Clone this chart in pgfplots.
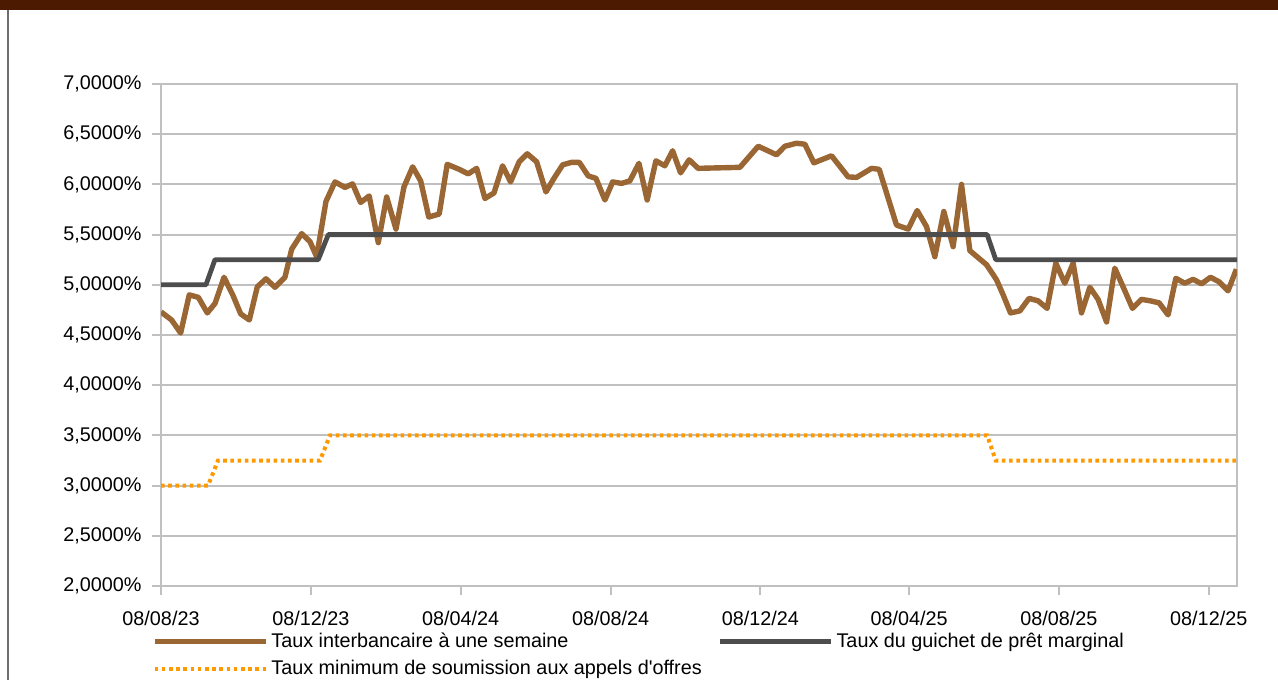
\documentclass[border=0pt]{standalone}
\usepackage{fontspec}
\setmainfont{Liberation Sans}[Ligatures=TeXOff]
\usepackage{pgfplots}
\pgfplotsset{compat=1.18}

\definecolor{barbrown}{RGB}{76,26,0}
\definecolor{framegray}{RGB}{110,110,110}
\definecolor{weekly}{RGB}{154,102,51}
\definecolor{marginal}{RGB}{77,77,77}
\definecolor{minbid}{RGB}{255,153,0}
\definecolor{gridgray}{RGB}{192,192,192}

% x = days since 08/08/23
\pgfplotstableread{
day rate
0 4.73
8.6 4.65
16 4.52
23 4.90
30.4 4.875
37.7 4.72
44 4.815
51.3 5.075
58.4 4.90
64.9 4.71
71.9 4.65
78.4 4.98
85.5 5.06
92.8 4.975
100.9 5.075
106.4 5.355
114.5 5.51
121.3 5.43
126.7 5.28
134.3 5.83
141.6 6.025
149.8 5.97
156 6.005
162.5 5.82
169.5 5.885
176.9 5.42
183.7 5.875
191.3 5.555
197.8 5.975
204.9 6.175
211.4 6.035
218 5.675
226.5 5.705
233 6.20
242.8 6.15
250.1 6.105
257 6.16
263.7 5.86
271.1 5.915
278.1 6.185
284.6 6.025
291.6 6.225
298.2 6.305
305.8 6.225
313.4 5.925
319.9 6.06
327 6.195
334.3 6.22
340.5 6.22
347.8 6.085
354.1 6.06
361.4 5.845
367.7 6.025
375 6.01
381.7 6.035
389.1 6.21
395.8 5.845
402.9 6.235
410.2 6.185
416.5 6.335
423 6.115
430 6.245
437.3 6.16
471.3 6.17
486.2 6.38
501.1 6.295
507.9 6.38
517.4 6.41
524.2 6.40
531.5 6.215
545.9 6.285
559.4 6.075
566.3 6.07
578.5 6.16
584.7 6.15
598.8 5.595
608.3 5.555
615.6 5.74
623.2 5.58
630 5.28
637.3 5.73
644.9 5.38
651.7 6.00
658.5 5.34
672.1 5.20
680.2 5.05
685.6 4.90
691.6 4.72
699.2 4.74
706.7 4.865
714.1 4.84
721.4 4.765
728.5 5.215
735.8 5.015
742.6 5.215
749.4 4.72
756.2 4.975
762.9 4.855
769.8 4.63
776.5 5.165
783.8 4.965
790.9 4.765
798.2 4.855
805.6 4.84
812.6 4.82
819.9 4.70
826.2 5.065
833.5 5.015
840.2 5.055
847.1 5.01
854.4 5.075
861.4 5.03
868.7 4.94
875.5 5.155
}\weeklydata

\pgfplotstableread{
day rate
0 5.0
36.6 5.0
43.9 5.25
128 5.25
136.2 5.5
672.6 5.5
679.6 5.25
876 5.25
}\marginaldata

\pgfplotstableread{
day rate
0 3.0
38.3 3.0
46.4 3.25
129.4 3.25
137.6 3.5
672.6 3.5
679.6 3.25
876 3.25
}\minbiddata

\begin{document}
\begin{tikzpicture}
\useasboundingbox (0,0) rectangle (639pt,-340pt);
\fill[barbrown] (0,0) rectangle (639pt,-5pt);
\draw[framegray,line width=1pt] (4pt,-5pt) -- (4pt,-340pt);

\begin{axis}[
    at={(80.5pt,-293pt)}, anchor=south west,
    width=538pt, height=251pt, scale only axis,
    xmin=0, xmax=876, ymin=2, ymax=7,
    axis line style={gridgray, line width=1pt},
    ymajorgrids, grid style={gridgray, line width=1pt},
    tick align=outside, tick pos=left,
    major tick length=4.5pt,
    tick style={gridgray, line width=1pt},
    xtick={0,122,244,366,488,609,731,853},
    xticklabels={08/08/23,08/12/23,08/04/24,08/08/24,08/12/24,08/04/25,08/08/25,08/12/25},
    ytick={2,2.5,3,3.5,4,4.5,5,5.5,6,6.5,7},
    yticklabels={{2,0000\%},{2,5000\%},{3,0000\%},{3,5000\%},{4,0000\%},{4,5000\%},{5,0000\%},{5,5000\%},{6,0000\%},{6,5000\%},{7,0000\%}},
    every tick label/.append style={font=\fontsize{9.9}{12}\selectfont, text=black},
    xticklabel style={inner sep=0pt, yshift=-8pt},
    yticklabel style={inner sep=0pt, xshift=-5pt},
    legend columns=2,
    legend style={at={(-0.0084,-0.093)}, anchor=north west, draw=none, fill=none,
        inner sep=0pt, outer sep=0pt, row sep=4.5pt,
        font=\fontsize{9.9}{12}\selectfont,
        nodes={inner sep=0pt, text height=7.2pt, text depth=1.8pt},
        /tikz/every odd column/.append style={column sep=1.5pt},
        /tikz/every even column/.append style={column sep=8pt}},
    legend cell align=left,
    legend image code/.code={\draw[#1] (0pt,0pt) -- (55.5pt,0pt);},
]
\addplot[weekly, line width=2.7pt, line join=round] table[x=day, y=rate] {\weeklydata};
\addlegendentry{Taux interbancaire à une semaine}
\addplot[marginal, line width=2.4pt, line join=round] table[x=day, y=rate] {\marginaldata};
\addlegendentry{Taux du guichet de prêt marginal}
\addplot[minbid, line width=2pt, dash pattern=on 1.8pt off 1.8pt] table[x=day, y=rate] {\minbiddata};
\addlegendentry{Taux minimum de soumission aux appels d'offres}
\end{axis}
\end{tikzpicture}
\end{document}
